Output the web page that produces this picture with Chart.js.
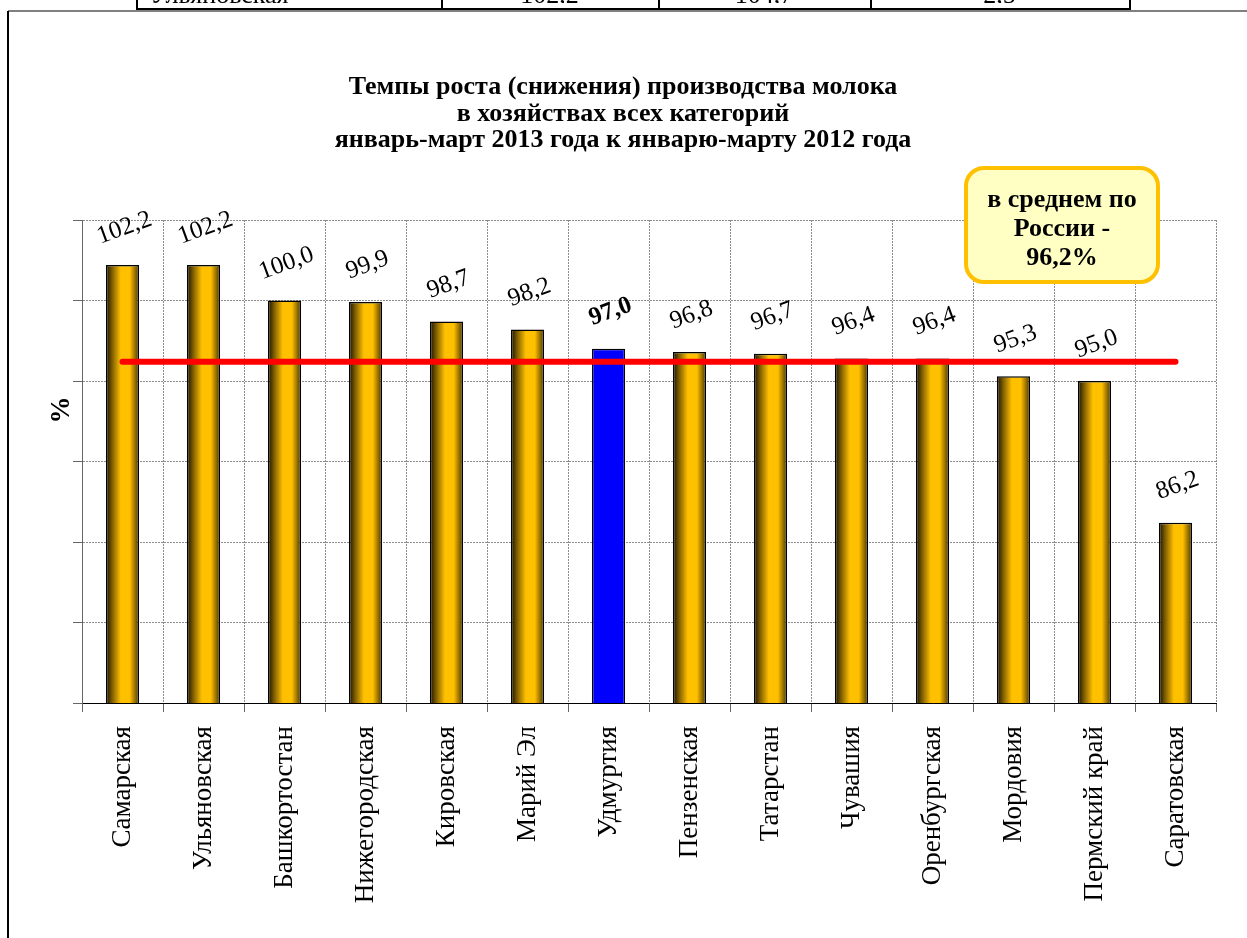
<!DOCTYPE html>
<html>
<head>
<meta charset="utf-8">
<script src="https://cdn.jsdelivr.net/npm/chart.js@4/dist/chart.umd.min.js"></script>
<style>
    html, body { margin: 0; padding: 0; background: #fff; }
    #chartCanvas { display: block; }
</style>
</head>
<body>
<canvas id="chartCanvas" width="1247" height="938"></canvas>
<script>
// Regions and growth rates (%), Jan-Mar 2013 vs Jan-Mar 2012
const categories = ['Самарская', 'Ульяновская', 'Башкортостан', 'Нижегородская', 'Кировская', 'Марий Эл',
    'Удмуртия', 'Пензенская', 'Татарстан', 'Чувашия', 'Оренбургская', 'Мордовия', 'Пермский край', 'Саратовская'];
const values = [102.2, 102.2, 100.0, 99.9, 98.7, 98.2, 97.0, 96.8, 96.7, 96.4, 96.4, 95.3, 95.0, 86.2];
const russiaAvg = 96.2;
const highlightRegion = 'Удмуртия';
const yTicks = { min: 75, max: 105, step: 5 };

const titleLines = ['Темпы роста (снижения) производства молока', 'в хозяйствах всех категорий',
    'январь-март 2013 года к январю-марту 2012 года'];
const noteLines = ['в среднем по', 'России -', '96,2%'];
// cut-off row of the table above the chart
const tableRow = ['Ульяновская', '102,2', '104,7', '2,5'];

const serif = "'Liberation Serif', 'Times New Roman', serif";
const barPct = 0.41;

function fmt(v) {
    return v.toFixed(1).replace('.', ',');
}

// horizontal "cylinder" gradient for each bar
function barFill(context) {
    const chart = context.chart;
    const i = context.dataIndex;
    const isHi = categories[i] === highlightRegion;
    if (!chart.chartArea || !chart.scales.x) return isHi ? '#0000ff' : '#ffc000';
    const xs = chart.scales.x;
    const cx = xs.getPixelForValue(i);
    const w = (chart.chartArea.width / categories.length) * barPct;
    const g = chart.ctx.createLinearGradient(cx - w / 2, 0, cx + w / 2, 0);
    if (isHi) {
        g.addColorStop(0, '#0000ff');
        g.addColorStop(1, '#0000ff');
    } else {
        g.addColorStop(0, '#140e00');
        g.addColorStop(0.18, '#7a5a00');
        g.addColorStop(0.45, '#ffc000');
        g.addColorStop(0.72, '#ffc000');
        g.addColorStop(0.92, '#7d5c00');
        g.addColorStop(1, '#2a1f00');
    }
    return g;
}

// page decorations: table fragment, frame, title, % label, note box
const decorPlugin = {
    id: 'decor',
    beforeDraw(chart) {
        const ctx = chart.ctx;
        ctx.save();
        // frame lines
        ctx.fillStyle = '#808080';
        ctx.fillRect(8, 10, 1239, 2);
        ctx.fillStyle = '#000';
        ctx.fillRect(7, 11, 2, 927);
        // table fragment
        const cols = [136, 441, 658, 870, 1129];
        ctx.font = '26px ' + serif;
        ctx.textBaseline = 'alphabetic';
        ctx.textAlign = 'left';
        ctx.fillText(tableRow[0], 150, 3);
        ctx.textAlign = 'center';
        for (let k = 1; k < tableRow.length; k++) {
            ctx.fillText(tableRow[k], (cols[k] + cols[k + 1]) / 2, 3);
        }
        ctx.fillStyle = '#fff';
        ctx.fillRect(0, 3, 1247, 5);
        ctx.fillStyle = '#000';
        ctx.fillRect(136, 8, 995, 2);
        cols.forEach(x => ctx.fillRect(x, 0, 2, 10));
        ctx.restore();
    },
    afterDraw(chart) {
        const ctx = chart.ctx;
        ctx.save();
        ctx.fillStyle = '#000';
        ctx.textAlign = 'center';
        ctx.textBaseline = 'alphabetic';
        ctx.font = 'bold 26px ' + serif;
        titleLines.forEach((t, k) => ctx.fillText(t, 623, 94 + k * 26.5));

        // axis title
        ctx.textBaseline = 'middle';
        ctx.save();
        ctx.translate(62, 410);
        ctx.rotate(-Math.PI / 2);
        ctx.font = 'bold 27px ' + serif;
        ctx.fillText('%', 0, 0);
        ctx.restore();

        // note box
        const bx = 966, by = 168, bw = 192, bh = 114;
        ctx.beginPath();
        ctx.roundRect(bx, by, bw, bh, 18);
        ctx.fillStyle = '#ffffc4';
        ctx.fill();
        ctx.lineWidth = 4;
        ctx.strokeStyle = '#ffc000';
        ctx.stroke();
        ctx.fillStyle = '#000';
        ctx.font = 'bold 26px ' + serif;
        noteLines.forEach((t, k) => ctx.fillText(t, 1062, 200 + k * 29));
        ctx.restore();
    }
};

// rotated value labels above bars
const valueLabels = {
    id: 'valueLabels',
    afterDatasetsDraw(chart) {
        const ctx = chart.ctx;
        const meta = chart.getDatasetMeta(0);
        ctx.save();
        ctx.fillStyle = '#000';
        ctx.textAlign = 'center';
        ctx.textBaseline = 'middle';
        meta.data.forEach((bar, i) => {
            const bold = categories[i] === highlightRegion;
            ctx.save();
            ctx.translate(bar.x + 2, bar.y - 37);
            ctx.rotate(-20 * Math.PI / 180);
            ctx.font = (bold ? 'bold ' : '') + '25px ' + serif;
            ctx.fillText(fmt(values[i]), 0, 0);
            ctx.restore();
        });
        ctx.restore();
    }
};

const ctx = document.getElementById('chartCanvas').getContext('2d');
const chart = new Chart(ctx, {
    type: 'bar',
    data: {
        labels: categories,
        datasets: [{
            type: 'bar',
            data: values,
            backgroundColor: barFill,
            borderColor: '#000',
            borderWidth: 1.5,
            borderSkipped: false,
            categoryPercentage: 1,
            barPercentage: barPct,
            order: 2
        }, {
            type: 'line',
            data: categories.map(() => russiaAvg),
            borderColor: '#ff0000',
            borderWidth: 6,
            borderCapStyle: 'round',
            pointRadius: 0,
            fill: false,
            order: 1
        }]
    },
    options: {
        responsive: false,
        animation: false,
        layout: { padding: { left: 0, top: 220, right: 31, bottom: 0 } },
        plugins: {
            legend: { display: false },
            tooltip: { enabled: false },
            title: { display: false }
        },
        scales: {
            x: {
                grid: {
                    offset: true,
                    color: '#8c8c8c',
                    lineWidth: 1,
                    tickLength: 9,
                    tickColor: '#666',
                    tickBorderDash: []
                },
                border: { color: '#000', width: 1, dash: [2, 1] },
                ticks: {
                    autoSkip: false,
                    minRotation: 90,
                    maxRotation: 90,
                    padding: 14,
                    color: '#000',
                    font: { family: serif, size: 27 }
                },
                afterFit(scale) { scale.height = 235; }
            },
            y: {
                min: yTicks.min,
                max: yTicks.max,
                grid: {
                    color: '#8c8c8c',
                    lineWidth: 1,
                    tickLength: 9,
                    tickColor: '#666',
                    tickBorderDash: []
                },
                border: { color: '#666', width: 1, dash: [2, 1] },
                ticks: { stepSize: yTicks.step, display: false },
                afterFit(scale) { scale.width = 82; }
            }
        }
    },
    plugins: [decorPlugin, valueLabels]
});
</script>
</body>
</html>
